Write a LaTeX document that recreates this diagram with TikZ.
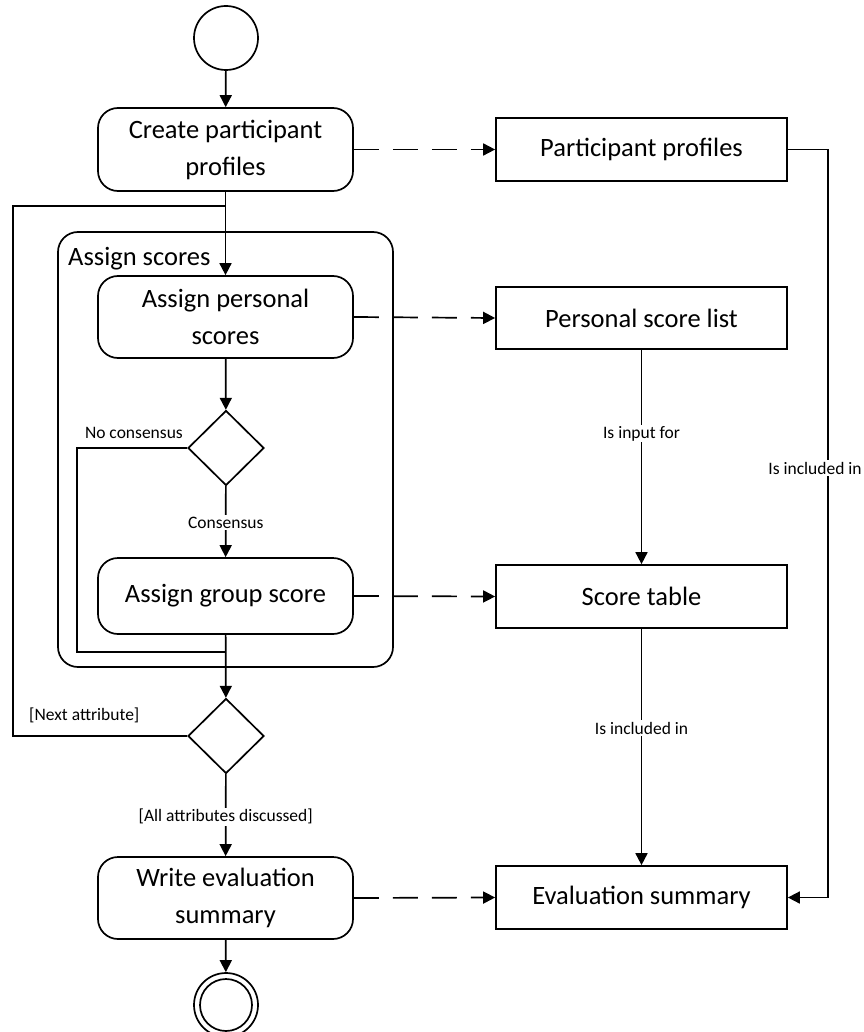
\documentclass[tikz,border=0pt]{standalone}
\usepackage{fontspec}
\setmainfont{Carlito}
\usetikzlibrary{arrows.meta,shapes.geometric}
\tikzset{
  ln/.style={line width=1.7pt},
  arr/.style={ln,-{Triangle[length=12pt,width=12pt]}},
  dsh/.style={arr,dash pattern=on 25pt off 14pt},
  action/.style={draw,ln,rounded corners=20pt,minimum width=255pt,align=center,font=\fontsize{26.5}{37}\selectfont},
  obj/.style={draw,ln,minimum width=291pt,minimum height=63pt,font=\fontsize{26.5}{37}\selectfont},
  dec/.style={draw,ln,diamond,minimum width=76pt,minimum height=75pt,inner sep=0pt},
  lbl/.style={fill=white,inner sep=1.5pt,font=\fontsize{17.5}{20}\selectfont},
  slbl/.style={inner sep=0pt,font=\fontsize{17.5}{20}\selectfont}
}
\begin{document}
\begin{tikzpicture}[x=1pt,y=-1pt]
\useasboundingbox (0,0) rectangle (863,1032);
% frame
\draw[ln,rounded corners=20pt] (58,232) rectangle (393,667);
\node[anchor=base west,inner sep=0pt,font=\fontsize{26.5}{37}\selectfont] (frl) at (68,265) {Assign scores};
% nodes
\node[draw,ln,circle,minimum size=64pt,inner sep=0pt] (start) at (226,38) {};
\node[action,minimum height=83pt] (create) at (225.5,149.5) {Create participant\\profiles};
\node[action,minimum height=82pt] (personal) at (225.5,317) {Assign personal\\scores};
\node[dec] (d1) at (226,448) {};
\node[action,minimum height=76pt] (group) at (225.5,596) {Assign group score};
\node[dec] (d2) at (226,736) {};
\node[action,minimum height=82pt] (write) at (225.5,898) {Write evaluation\\summary};
\node[draw,ln,circle,minimum size=64pt,inner sep=0pt] (end) at (226,1005) {};
\node[draw,ln,circle,minimum size=52pt,inner sep=0pt] (endin) at (226,1005) {};
\node[obj] (pp) at (641.5,149.5) {Participant profiles};
\node[obj,minimum height=62pt] (psl) at (641.5,318) {Personal score list};
\node[obj] (st) at (641.5,596.5) {Score table};
\node[obj] (es) at (641.5,897.5) {Evaluation summary};
% coordinates
\coordinate (j1) at (226,206);
\coordinate (l1) at (13,206);
\coordinate (l2) at (13,736);
\coordinate (n1) at (77,448);
\coordinate (n2) at (77,652);
\coordinate (j2) at (226,652);
\coordinate (r1) at (828,149.5);
\coordinate (r2) at (828,897.5);
% control flow
\draw[arr] (start) -- (create);
\draw[arr] (create) -- (personal);
\draw[arr] (personal) -- (d1);
\draw[arr] (d1) -- node[lbl,pos=0.51] {Consensus} (group);
\draw[arr] (group) -- (d2);
\draw[arr] (d2) -- node[lbl,pos=0.52] {[All attributes discussed]} (write);
\draw[arr] (write) -- (end);
\draw[ln] (d1.west) -- (n1) -- (n2) -- (j2);
\draw[ln] (d2.west) -- (l2) -- (l1) -- (j1);
\node[slbl,anchor=base east] (nc) at (183,438) {No consensus};
\node[slbl,anchor=base west] (na) at (29,720) {[Next attribute]};
% object flow
\draw[dsh] (create.east) -- (pp.west);
\draw[dsh] (personal.east) -- (psl.west);
\draw[dsh] (group.east) -- (st.west);
\draw[dsh] (write.east) -- (es.west);
\draw[arr] (psl) -- node[lbl,pos=0.39] {Is input for} (st);
\draw[arr] (st) -- node[lbl,pos=0.42] {Is included in} (es);
\draw[arr] (pp.east) -- (r1) -- (r2) -- (es.east);
\node[lbl] (inc) at (815,468) {Is included in};
\end{tikzpicture}
\end{document}
